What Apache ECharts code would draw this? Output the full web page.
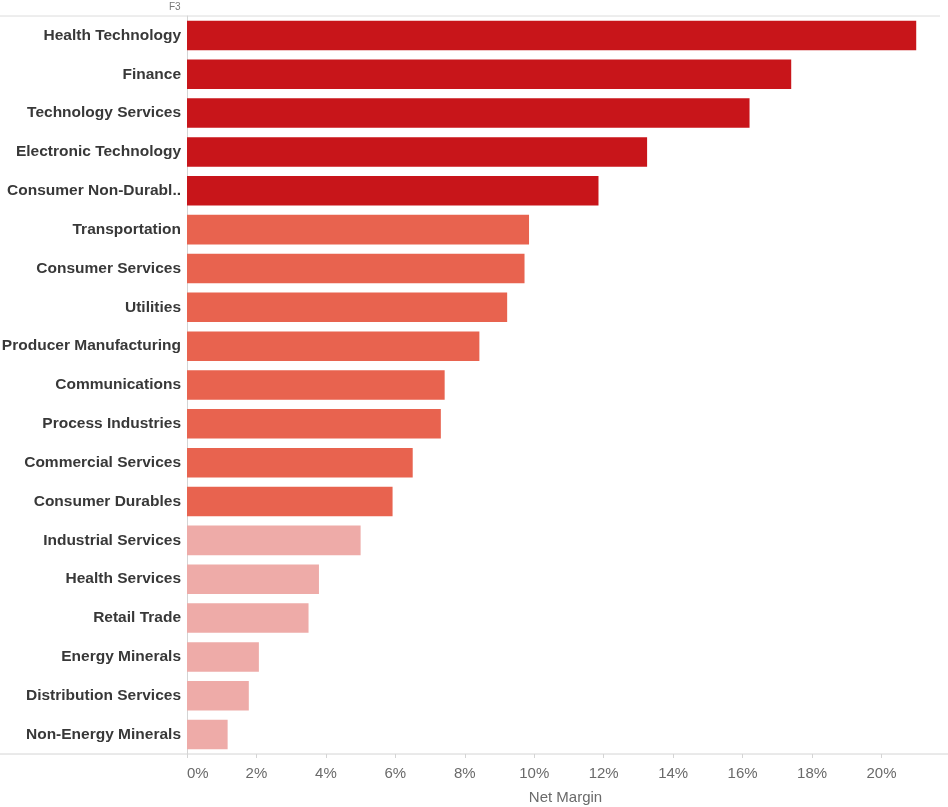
<!DOCTYPE html>
<html>
<head>
<meta charset="utf-8">
<script src="https://cdn.jsdelivr.net/npm/echarts@6/dist/echarts.min.js"></script>
<style>
html,body{margin:0;padding:0;background:#fff;}
#chart{width:948px;height:807px;}
</style>
</head>
<body>
<div id="chart"></div>
<script>
const categories = [
  "Health Technology","Finance","Technology Services","Electronic Technology","Consumer Non-Durabl..",
  "Transportation","Consumer Services","Utilities","Producer Manufacturing","Communications",
  "Process Industries","Commercial Services","Consumer Durables","Industrial Services","Health Services",
  "Retail Trade","Energy Minerals","Distribution Services","Non-Energy Minerals"
];
const netMargin = [21.0, 17.4, 16.2, 13.25, 11.85, 9.85, 9.72, 9.22, 8.42, 7.42, 7.31, 6.5, 5.92, 5.0, 3.8, 3.5, 2.07, 1.78, 1.17];
const tiers = [3,3,3,3,3, 2,2,2,2,2,2,2,2, 1,1,1,1,1,1];
const tickValues = [0,2,4,6,8,10,12,14,16,18,20];
const xAxisTitle = "Net Margin";
const headerLabel = "F3";

const tierColors = {3: "#C8151A", 2: "#E8634F", 1: "#EEABA8"};

const chart = echarts.init(document.getElementById('chart'), null, {renderer: 'canvas'});
chart.setOption({
  backgroundColor: '#ffffff',
  animation: false,
  grid: {left: 187, right: 4, top: 16, bottom: 53, containLabel: false, outerBoundsMode: 'none'},
  xAxis: {
    type: 'value',
    min: 0,
    max: 21.8,
    interval: 2,
    name: xAxisTitle,
    nameLocation: 'middle',
    nameGap: 36,
    nameTextStyle: {color: '#6a6a6a', fontSize: 15, fontFamily: 'Liberation Sans Narrow, Liberation Sans, Arial'},
    axisLine: {show: false},
    axisTick: {show: true, length: 4, lineStyle: {color: '#d4d4d4'}},
    splitLine: {show: false},
    axisLabel: {
      color: '#6a6a6a', fontSize: 15, margin: 12,
      fontFamily: 'Liberation Sans Narrow, Liberation Sans, Arial',
      alignMinLabel: 'left',
      showMaxLabel: false,
      formatter: v => tickValues.indexOf(v) >= 0 ? v + '%' : ''
    }
  },
  yAxis: {
    type: 'category',
    data: categories,
    inverse: true,
    axisLine: {show: true, lineStyle: {color: '#d4d4d4', width: 1}},
    axisTick: {show: false},
    axisLabel: {
      color: '#383838', fontSize: 15.5, fontWeight: 'bold', margin: 6,
      fontFamily: 'Liberation Sans, Arial'
    }
  },
  graphic: [
    {type: 'line', shape: {x1: 0, y1: 16, x2: 940, y2: 16}, style: {stroke: '#dcdcdc', lineWidth: 1}, z: 0},
    {type: 'line', shape: {x1: 0, y1: 754, x2: 948, y2: 754}, style: {stroke: '#d4d4d4', lineWidth: 1}, z: 0},
    {type: 'text', left: 169, top: 2, style: {text: headerLabel, fill: '#777777', fontSize: 10, fontFamily: 'Liberation Sans, Arial'}}
  ],
  series: [{
    type: 'bar',
    data: netMargin.map((v, i) => ({value: v, itemStyle: {color: tierColors[tiers[i]]}})),
    barCategoryGap: '24%',
    silent: true
  }]
});
</script>
</body>
</html>
